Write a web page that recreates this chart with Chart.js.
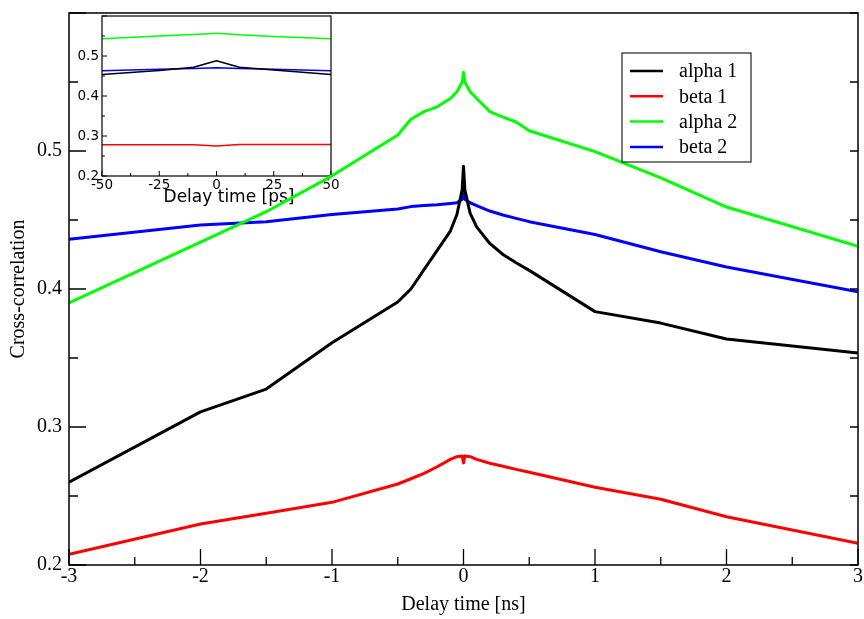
<!DOCTYPE html>
<html>
<head>
<meta charset="utf-8">
<title>Cross-correlation vs delay time</title>
<script src="https://cdn.jsdelivr.net/npm/chart.js@4.4.0/dist/chart.umd.min.js"></script>
<style>
    html, body { margin: 0; padding: 0; background: #fff; }
    #wrap { position: relative; width: 864px; height: 619px; }
    #main { position: absolute; left: 0; top: 0; z-index: 2; }
    #inset { position: absolute; left: 60px; top: 10px; z-index: 1; }
</style>
</head>
<body>
<div id="wrap">
    <canvas id="inset" width="280" height="205"></canvas>
    <canvas id="main" width="864" height="619"></canvas>
</div>
<script>
// main panel, delay in ns
const delayNs = [-3, -2, -1.5, -1, -0.5, -0.4, -0.3, -0.2, -0.1, -0.05, -0.01, 0, 0.01, 0.05, 0.1, 0.2, 0.3, 0.4, 0.5, 1, 1.5, 2, 3];
const alpha1 = [0.260, 0.311, 0.3275, 0.361, 0.3906, 0.400, 0.414, 0.428, 0.442, 0.454, 0.472, 0.489, 0.472, 0.455, 0.445, 0.433, 0.425, 0.419, 0.4135, 0.3836, 0.3753, 0.3638, 0.3536];
const beta1 = [0.2078, 0.2297, 0.2375, 0.2454, 0.2587, 0.2625, 0.2664, 0.2712, 0.2765, 0.2785, 0.279, 0.274, 0.279, 0.2785, 0.2765, 0.2737, 0.2715, 0.2693, 0.2672, 0.2563, 0.2476, 0.235, 0.2157];
const alpha2 = [0.390, 0.434, 0.456, 0.482, 0.5116, 0.523, 0.5285, 0.532, 0.538, 0.543, 0.550, 0.557, 0.550, 0.543, 0.538, 0.5285, 0.5245, 0.521, 0.5147, 0.4995, 0.4805, 0.4594, 0.431];
const beta2 = [0.436, 0.4464, 0.4488, 0.454, 0.458, 0.4597, 0.4605, 0.461, 0.462, 0.4625, 0.465, 0.4705, 0.465, 0.4625, 0.4605, 0.4565, 0.4536, 0.4512, 0.4488, 0.4395, 0.427, 0.416, 0.398];

// inset, delay in ps
const delayPs = [-50, -25, -10, 0, 10, 25, 50];
const insetAlpha1 = [0.454, 0.464, 0.472, 0.488, 0.472, 0.465, 0.454];
const insetBeta1 = [0.278, 0.278, 0.278, 0.275, 0.2785, 0.2785, 0.2785];
const insetAlpha2 = [0.543, 0.550, 0.554, 0.557, 0.553, 0.549, 0.543];
const insetBeta2 = [0.463, 0.467, 0.469, 0.4705, 0.469, 0.467, 0.463];

const seriesNames = ['alpha 1', 'beta 1', 'alpha 2', 'beta 2'];
const seriesColors = ['#000000', '#ff0000', '#00ff00', '#0000ff'];

const xTicksNs = [-3, -2, -1, 0, 1, 2, 3];
const xTicksPs = [-50, -25, 0, 25, 50];
const yTicks = [0.2, 0.3, 0.4, 0.5];

const SERIF = "'Liberation Serif', 'Times New Roman', serif";
const SANS = "'DejaVu Sans', sans-serif";

const toPoints = (xs, ys) => xs.map((x, i) => ({ x, y: ys[i] }));

function makeDatasets(xs, seriesList, width) {
    return seriesList.map((ys, i) => ({
        label: seriesNames[i],
        data: toPoints(xs, ys),
        borderColor: seriesColors[i],
        backgroundColor: seriesColors[i],
        borderWidth: width,
        borderJoinStyle: 'round',
        pointRadius: 0,
        tension: 0,
        fill: false
    }));
}

// box around the plot plus inward tick marks (xmgrace style)
const frameTicks = {
    id: 'frameTicks',
    afterDraw(chart, args, o) {
        const { ctx, chartArea: a, scales: { x, y } } = chart;
        ctx.save();
        ctx.strokeStyle = '#000';
        ctx.lineWidth = o.tickWidth;
        ctx.beginPath();

        const steps = (min, max, step) => {
            const out = [];
            for (let k = 0; min + k * step <= max + 1e-9; k++) out.push(min + k * step);
            return out;
        };

        steps(x.min, x.max, o.xStep).forEach(v => {
            const px = x.getPixelForValue(v);
            ctx.moveTo(px, a.bottom);
            ctx.lineTo(px, a.bottom - o.bottom[0]);
            const m = v + o.xStep / 2;
            if (m < x.max) {
                const pm = x.getPixelForValue(m);
                ctx.moveTo(pm, a.bottom);
                ctx.lineTo(pm, a.bottom - o.bottom[1]);
            }
        });

        steps(y.min, y.max, o.yStep).forEach(v => {
            const py = y.getPixelForValue(v);
            ctx.moveTo(a.left, py);
            ctx.lineTo(a.left + o.left[0], py);
            if (o.right[0]) {
                ctx.moveTo(a.right, py);
                ctx.lineTo(a.right - o.right[0], py);
            }
            const m = v + o.yStep / 2;
            if (m < y.max) {
                const pm = y.getPixelForValue(m);
                ctx.moveTo(a.left, pm);
                ctx.lineTo(a.left + o.left[1], pm);
                if (o.right[1]) {
                    ctx.moveTo(a.right, pm);
                    ctx.lineTo(a.right - o.right[1], pm);
                }
            }
        });
        ctx.stroke();

        ctx.lineWidth = o.frameWidth;
        ctx.strokeRect(a.left, a.top, a.right - a.left, a.bottom - a.top);

        if (o.title) {
            ctx.fillStyle = '#000';
            ctx.font = o.title.font;
            ctx.textAlign = 'center';
            ctx.textBaseline = 'middle';
            ctx.fillText(o.title.text, o.title.x, o.title.y);
        }
        ctx.restore();
    }
};

// boxed legend in the upper right of the main panel
const boxLegend = {
    id: 'boxLegend',
    afterDraw(chart, args, o) {
        if (!o.show) return;
        const { ctx } = chart;
        ctx.save();
        ctx.fillStyle = '#fff';
        ctx.fillRect(o.x, o.y, o.w, o.h);
        ctx.strokeStyle = '#222';
        ctx.lineWidth = 1.2;
        ctx.strokeRect(o.x, o.y, o.w, o.h);
        ctx.font = '20px ' + SERIF;
        ctx.textBaseline = 'middle';
        ctx.textAlign = 'left';
        chart.data.datasets.forEach((ds, i) => {
            const cy = o.y + o.first + i * o.gap;
            ctx.strokeStyle = ds.borderColor;
            ctx.lineWidth = 2.5;
            ctx.beginPath();
            ctx.moveTo(o.x + 8, cy);
            ctx.lineTo(o.x + 41, cy);
            ctx.stroke();
            ctx.fillStyle = '#000';
            ctx.fillText(ds.label, o.x + 57, cy + 1);
        });
        ctx.restore();
    }
};

function fixedScale(w, h) {
    return s => {
        if (w !== null) s.width = w;
        if (h !== null) s.height = h;
        s.paddingLeft = s.paddingRight = s.paddingTop = s.paddingBottom = 0;
    };
}

const useTicks = values => s => { s.ticks = values.map(v => ({ value: v })); };

new Chart(document.getElementById('main'), {
    type: 'line',
    data: { datasets: makeDatasets(delayNs, [alpha1, beta1, alpha2, beta2], 3) },
    plugins: [frameTicks, boxLegend],
    options: {
        responsive: false,
        animation: false,
        devicePixelRatio: 1,
        layout: { padding: { top: 13, right: 6, left: 0, bottom: 0 } },
        plugins: {
            legend: { display: false },
            tooltip: { enabled: false },
            frameTicks: {
                xStep: 1, yStep: 0.1,
                bottom: [16, 8], left: [17, 9], right: [8, 8],
                tickWidth: 1.3, frameWidth: 1.5
            },
            boxLegend: { show: true, x: 622, y: 53, w: 129, h: 109, first: 18, gap: 25.3 }
        },
        scales: {
            x: {
                type: 'linear', min: -3, max: 3,
                afterBuildTicks: useTicks(xTicksNs),
                afterFit: fixedScale(null, 54),
                grid: { display: false, drawTicks: false },
                border: { display: false },
                ticks: {
                    color: '#000', padding: 0, maxRotation: 0, autoSkip: false,
                    font: { family: SERIF, size: 20, lineHeight: 1.2 },
                    callback: v => String(v)
                },
                title: {
                    display: true, text: 'Delay time [ns]', color: '#000',
                    font: { family: SERIF, size: 20, lineHeight: 1.2 },
                    padding: { top: 0, bottom: 2 }
                }
            },
            y: {
                type: 'linear', min: 0.2, max: 0.6,
                afterBuildTicks: useTicks(yTicks),
                afterFit: fixedScale(69, null),
                grid: { display: false, drawTicks: false },
                border: { display: false },
                ticks: {
                    color: '#000', padding: 7, autoSkip: false,
                    font: { family: SERIF, size: 20, lineHeight: 1.2 },
                    callback: v => v.toFixed(1)
                },
                title: {
                    display: true, text: 'Cross-correlation', color: '#000',
                    font: { family: SERIF, size: 20, lineHeight: 1.2 },
                    padding: { top: 7, bottom: 0 }
                }
            }
        }
    }
});

new Chart(document.getElementById('inset'), {
    type: 'line',
    data: { datasets: makeDatasets(delayPs, [insetAlpha1, insetBeta1, insetAlpha2, insetBeta2], 1.5) },
    plugins: [frameTicks],
    options: {
        responsive: false,
        animation: false,
        devicePixelRatio: 1,
        layout: { padding: { top: 6, right: 9, left: 0, bottom: 0 } },
        plugins: {
            legend: { display: false },
            tooltip: { enabled: false },
            frameTicks: {
                xStep: 25, yStep: 0.1,
                bottom: [5, 3], left: [5, 3], right: [0, 0],
                tickWidth: 1, frameWidth: 1.2,
                title: { text: 'Delay time [ps]', font: '17px ' + SANS, x: 169, y: 188 }
            }
        },
        scales: {
            x: {
                type: 'linear', min: -50, max: 50,
                afterBuildTicks: useTicks(xTicksPs),
                afterFit: fixedScale(null, 39),
                grid: { display: false, drawTicks: false },
                border: { display: false },
                ticks: {
                    color: '#000', padding: 1, maxRotation: 0, autoSkip: false,
                    font: { family: SANS, size: 13.5, lineHeight: 1.2 },
                    callback: v => String(v)
                }
            },
            y: {
                type: 'linear', min: 0.2, max: 0.6,
                afterBuildTicks: useTicks(yTicks),
                afterFit: fixedScale(42, null),
                grid: { display: false, drawTicks: false },
                border: { display: false },
                ticks: {
                    color: '#000', padding: 3, autoSkip: false,
                    font: { family: SANS, size: 13.5, lineHeight: 1.2 },
                    callback: v => v.toFixed(1)
                }
            }
        }
    }
});
</script>
</body>
</html>
